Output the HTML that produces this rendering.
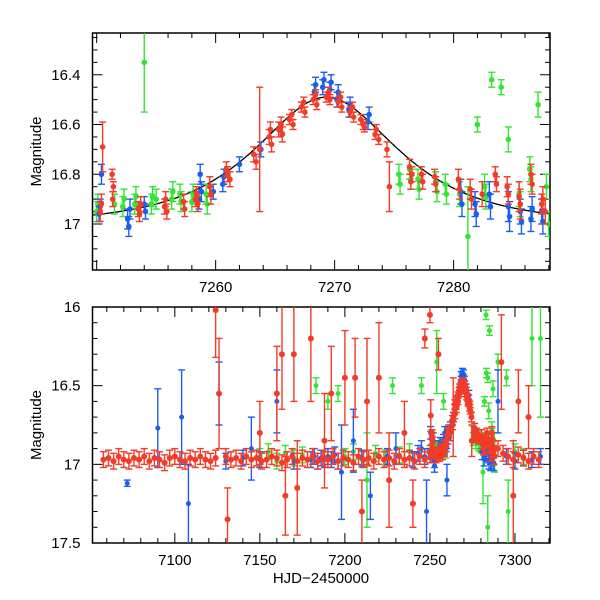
<!DOCTYPE html>
<html><head><meta charset="utf-8">
<style>
html,body{margin:0;padding:0;background:#fff;}
svg{display:block;font-family:"Liberation Sans",sans-serif;}
</style></head>
<body>
<svg id="chart" width="600" height="600" viewBox="0 0 600 600" xmlns="http://www.w3.org/2000/svg">
<g id="top"></g>
<g id="bot"></g>
</svg>
<script>
// ---- data (top panel nights, also shown in bottom panel) ----
const redT = [7250.3,7250.5,7250.4,7251.3,7251.4,7251.35,7253.5,7253.7,7253.6,7255.7,7255.9,7255.8,7257.3,7257.4,7258.3,7258.5,7258.4,7259.5,7259.6,7260.9,7261.2,7261.0,7263.2,7263.7,7263.4,7264.5,7264.7,7264.6,7265.3,7265.6,7265.5,7266.2,7266.5,7266.4,7267.2,7267.5,7267.4,7268.2,7268.5,7268.4,7269.3,7269.6,7269.5,7270.3,7270.6,7270.5,7271.3,7271.6,7271.5,7272.2,7272.5,7272.4,7273.4,7273.7,7273.5,7274.4,7274.6,7276.3,7276.5,7276.4,7277.3,7277.4,7278.4,7278.5,7280.4,7280.5,7281.4,7281.5,7282.4,7283.5,7283.6,7284.5,7284.6,7285.5,7285.6,7286.5,7286.6,7287.4,7287.7,7287.5];
const redM = [16.95,16.69,16.92,16.80,16.85,16.90,16.94,16.92,16.96,16.93,16.95,16.90,16.91,16.94,16.90,16.92,16.88,16.85,16.88,16.78,16.82,16.80,16.72,16.70,16.75,16.65,16.68,16.62,16.62,16.64,16.60,16.58,16.60,16.56,16.53,16.55,16.51,16.50,16.52,16.48,16.49,16.50,16.47,16.51,16.53,16.49,16.55,16.57,16.53,16.58,16.61,16.60,16.64,16.66,16.62,16.70,16.85,16.77,16.80,16.83,16.80,16.83,16.81,16.84,16.82,16.86,16.86,16.90,16.88,16.80,16.84,16.85,16.88,16.89,16.92,16.80,16.84,16.92,16.95,16.90];
const redE = [0.04,0.1,0.04,0.02,0.02,0.03,0.03,0.03,0.03,0.03,0.03,0.03,0.03,0.03,0.03,0.03,0.03,0.04,0.04,0.03,0.03,0.03,0.03,0.25,0.03,0.03,0.03,0.03,0.03,0.03,0.03,0.02,0.02,0.02,0.02,0.02,0.02,0.02,0.02,0.02,0.02,0.02,0.02,0.02,0.02,0.02,0.02,0.02,0.02,0.02,0.02,0.02,0.02,0.02,0.02,0.03,0.1,0.03,0.03,0.03,0.03,0.03,0.03,0.03,0.04,0.04,0.04,0.04,0.05,0.03,0.03,0.04,0.04,0.06,0.06,0.04,0.04,0.04,0.05,0.05];
const blueT = [7250.2,7250.4,7250.3,7252.6,7252.8,7252.7,7254.0,7254.1,7258.6,7258.8,7258.7,7259.8,7260.6,7260.7,7262.0,7263.8,7268.3,7268.4,7269.0,7269.1,7269.6,7269.7,7270.2,7270.3,7271.2,7271.3,7272.8,7272.9,7280.6,7280.7,7281.8,7281.9,7283.0,7283.1,7284.6,7284.7,7285.6,7285.7,7286.5,7286.6,7287.4,7287.5];
const blueM = [16.96,16.80,16.93,16.98,16.94,17.01,16.92,16.95,16.90,16.87,16.80,16.87,16.84,16.81,16.76,16.70,16.47,16.44,16.45,16.42,16.46,16.43,16.50,16.47,16.54,16.52,16.59,16.56,16.87,16.92,16.92,16.96,16.88,16.93,16.93,16.97,16.95,16.99,16.98,16.94,16.95,16.99];
const blueE = [0.03,0.04,0.03,0.04,0.04,0.04,0.03,0.03,0.04,0.04,0.04,0.03,0.03,0.03,0.03,0.03,0.03,0.03,0.03,0.03,0.03,0.03,0.03,0.03,0.03,0.03,0.03,0.03,0.05,0.05,0.05,0.05,0.05,0.05,0.06,0.06,0.05,0.05,0.05,0.05,0.05,0.05];
const greenT = [7250.0,7250.1,7251.5,7252.2,7252.3,7253.2,7253.3,7254.0,7254.6,7254.7,7255.0,7256.3,7256.4,7257.0,7257.1,7258.0,7258.1,7259.2,7259.3,7275.4,7275.5,7276.3,7276.4,7277.0,7277.1,7278.5,7278.6,7279.3,7279.4,7280.5,7281.2,7282.0,7282.6,7282.7,7283.2,7284.0,7284.6,7285.5,7285.6,7286.4,7286.5,7287.1,7287.8,7288.0];
const greenM = [16.95,16.92,16.92,16.93,16.90,16.92,16.89,16.35,16.92,16.89,16.90,16.90,16.87,16.88,16.91,16.91,16.88,16.88,16.92,16.80,16.84,16.78,16.82,16.82,16.86,16.83,16.87,16.84,16.88,16.88,17.05,16.60,16.85,16.89,16.42,16.45,16.66,16.88,16.92,16.78,16.82,16.52,16.85,17.00];
const greenE = [0.04,0.04,0.04,0.04,0.04,0.04,0.04,0.2,0.04,0.04,0.04,0.04,0.04,0.04,0.04,0.04,0.04,0.04,0.04,0.04,0.04,0.04,0.04,0.04,0.04,0.04,0.04,0.04,0.04,0.05,0.2,0.03,0.05,0.05,0.03,0.03,0.05,0.05,0.05,0.05,0.05,0.05,0.05,0.05];
// ---- earlier/extra data (bottom panel) ----
const redT2 = [7058,7061,7064,7067,7070,7073,7076,7079,7082,7085,7088,7091,7094,7097,7100,7103,7106,7109,7112,7115,7118,7121,7124,7130,7133,7136,7139,7142,7145,7148,7151,7154,7157,7160,7163,7166,7169,7172,7175,7178,7181,7184,7187,7190,7193,7196,7199,7202,7205,7208,7211,7214,7217,7220,7223,7226,7229,7232,7235,7238,7241,7244,7247,7290,7293,7296,7299,7302,7305,7308,7311,7314,7124,7126,7131,7150,7160,7163,7165,7170,7172,7180,7188,7192,7200,7206,7210,7213,7220,7226,7235,7240,7247,7250,7255,7292,7299,7302,7308];
const redM2 = [16.97,16.96,16.98,16.95,16.97,16.98,16.96,16.97,16.95,16.98,16.96,16.97,16.99,16.96,16.95,16.97,16.98,16.96,16.97,16.95,16.97,16.98,16.96,16.95,16.97,16.96,16.98,16.95,16.97,16.96,16.98,16.97,16.95,16.96,16.99,16.97,16.95,16.98,16.96,16.97,16.95,16.98,16.96,16.97,16.95,16.98,16.96,16.97,16.99,16.95,16.97,16.96,16.98,16.95,16.97,16.96,16.98,16.95,16.97,16.96,16.98,16.95,16.97,16.90,16.93,16.95,16.97,16.94,16.96,16.98,16.95,16.97,16.02,16.55,17.35,16.80,16.55,16.30,17.20,16.30,17.15,16.20,16.85,16.55,16.45,16.45,17.30,16.60,16.45,17.10,16.80,17.25,16.20,16.05,16.30,16.35,17.20,16.60,16.70];
const redE2 = [0.05,0.05,0.05,0.05,0.05,0.05,0.05,0.05,0.05,0.05,0.05,0.05,0.05,0.05,0.05,0.05,0.05,0.05,0.05,0.05,0.05,0.05,0.05,0.05,0.05,0.05,0.05,0.05,0.05,0.05,0.05,0.05,0.05,0.05,0.05,0.05,0.05,0.05,0.05,0.05,0.05,0.05,0.05,0.05,0.05,0.05,0.05,0.05,0.05,0.05,0.05,0.05,0.05,0.05,0.05,0.05,0.05,0.05,0.05,0.05,0.05,0.05,0.05,0.05,0.05,0.05,0.05,0.05,0.05,0.05,0.05,0.05,0.3,0.35,0.2,0.2,0.3,0.35,0.25,0.3,0.3,0.4,0.3,0.3,0.3,0.25,0.2,0.4,0.35,0.3,0.2,0.15,0.06,0.05,0.1,0.3,0.35,0.2,0.2];
const blueT2 = [7072,7090,7104,7108,7126,7145,7160,7180,7182,7184,7186,7188,7190,7198,7205,7215,7230,7243,7245,7247,7248,7252,7256,7260,7262,7290,7295,7300,7305,7310,7315,7130,7140,7150,7170,7210,7225,7240,7192,7194,7196,7255,7258];
const blueM2 = [17.12,16.77,16.70,17.25,16.55,16.90,16.60,16.97,16.95,16.98,16.96,16.97,16.95,17.05,16.85,17.20,16.90,16.93,16.90,16.95,17.30,16.85,16.88,17.10,16.80,16.60,16.95,16.98,16.96,16.97,16.95,16.98,16.96,16.97,16.98,16.96,16.95,16.97,16.97,16.94,16.98,16.90,16.86];
const blueE2 = [0.02,0.25,0.3,0.25,0.2,0.2,0.2,0.05,0.05,0.05,0.05,0.05,0.05,0.3,0.2,0.15,0.1,0.05,0.05,0.05,0.2,0.05,0.05,0.1,0.05,0.2,0.05,0.05,0.05,0.05,0.05,0.05,0.05,0.05,0.05,0.05,0.05,0.05,0.05,0.05,0.05,0.05,0.05];
const greenT2 = [7150,7155,7160,7165,7170,7175,7183,7190,7196,7200,7205,7210,7213,7218,7224,7228,7232,7238,7245,7258,7283,7285,7290,7295,7310,7315,7284,7296,7300,7305];
const greenM2 = [16.95,16.92,16.98,16.93,16.96,16.94,16.50,16.60,16.55,16.95,16.92,16.97,17.10,16.93,16.96,16.50,16.94,16.92,16.50,16.60,16.05,16.15,16.35,16.45,16.20,16.20,17.40,17.30,16.92,16.95];
const greenE2 = [0.05,0.05,0.05,0.05,0.05,0.05,0.05,0.05,0.05,0.05,0.05,0.05,0.3,0.05,0.05,0.05,0.05,0.05,0.05,0.05,0.03,0.03,0.05,0.05,0.3,0.5,0.2,0.2,0.05,0.05];
// tick labels
const topXTicks = [7260,7270,7280];
const topYTicks = [16.4,16.6,16.8,17];
const botXTicks = [7100,7150,7200,7250,7300];
const botYTicks = [16,16.5,17,17.5];

const NS = "http://www.w3.org/2000/svg";
function mk(parent, tag, attrs){ const e=document.createElementNS(NS,tag); for(const k in attrs) e.setAttribute(k,attrs[k]); parent.appendChild(e); return e; }

const panels = {
 top:{x0:92.5,x1:550,y0:33,y1:270,t0:7249.65,t1:7288.1,m0:16.232,m1:17.185},
 bot:{x0:92.5,x1:550,y0:307,y1:543,t0:7051.6,t1:7320.6,m0:16,m1:17.5}
};
function X(p,t){return p.x0+(t-p.t0)/(p.t1-p.t0)*(p.x1-p.x0);}
function Y(p,m){return p.y0+(m-p.m0)/(p.m1-p.m0)*(p.y1-p.y0);}

function drawSeries(g,p,T,M,E,color,name,r){
  for(let i=0;i<T.length;i++){
    if(T[i]<p.t0||T[i]>p.t1) continue;
    const x=X(p,T[i]);
    const ya=Math.max(p.y0,Y(p,M[i]-E[i])), yb=Math.min(p.y1,Y(p,M[i]+E[i]));
    const pt=mk(g,'g',{});
    
    
    mk(pt,'line',{x1:x,x2:x,y1:ya,y2:yb,stroke:color,'stroke-width':1.4});
    if(ya>p.y0) mk(pt,'line',{x1:x-3.5,x2:x+3.5,y1:ya,y2:ya,stroke:color,'stroke-width':1.4});
    if(yb<p.y1) mk(pt,'line',{x1:x-3.5,x2:x+3.5,y1:yb,y2:yb,stroke:color,'stroke-width':1.4});
    const ym=Y(p,M[i]);
    if(ym>=p.y0&&ym<=p.y1) mk(pt,'circle',{cx:x,cy:ym,r:r,fill:color});
  }
}

function drawAxes(g,p,xMajor,xMinor,yMajor,yMinor,xLabels,yLabels,yfmt){
  const clip=mk(g,'clipPath',{id:'c'+p.y0}); mk(clip,'rect',{x:p.x0,y:p.y0,width:p.x1-p.x0,height:p.y1-p.y0});
  for(let t=Math.ceil(p.t0/xMinor)*xMinor;t<=p.t1;t+=xMinor){
    const x=X(p,t); const maj=Math.abs(t/xMajor-Math.round(t/xMajor))<1e-6; const L=maj?10:5;
    mk(g,'line',{x1:x,x2:x,y1:p.y1,y2:p.y1-L,stroke:'#000','stroke-width':1});
    mk(g,'line',{x1:x,x2:x,y1:p.y0,y2:p.y0+L,stroke:'#000','stroke-width':1});
  }
  for(let k=Math.ceil(p.m0/yMinor-1e-6);k*yMinor<=p.m1+1e-9;k++){
    const m=k*yMinor; const y=Y(p,m); const maj=Math.abs(m/yMajor-Math.round(m/yMajor))<1e-6; const L=maj?10:5;
    mk(g,'line',{x1:p.x0,x2:p.x0+L,y1:y,y2:y,stroke:'#000','stroke-width':1});
    mk(g,'line',{x1:p.x1,x2:p.x1-L,y1:y,y2:y,stroke:'#000','stroke-width':1});
  }
  xLabels.forEach(t=>{const e=mk(g,'text',{x:X(p,t),y:p.y1+22,'text-anchor':'middle','font-size':15});e.textContent=t;
    
    });
  yLabels.forEach(m=>{const e=mk(g,'text',{x:p.x0-12,y:Y(p,m)+5,'text-anchor':'end','font-size':15});e.textContent=yfmt(m);
    
    });
  const fr=mk(g,'rect',{x:p.x0,y:p.y0,width:p.x1-p.x0,height:p.y1-p.y0,fill:'none',stroke:'#000','stroke-width':1.5});
  
  
  const yt=mk(g,'text',{x:0,y:0,transform:`translate(41,${(p.y0+p.y1)/2}) rotate(-90)`,'text-anchor':'middle','font-size':15});
  yt.textContent='Magnitude';
  
  
}

// top panel
const gt=document.getElementById('top'), pt=panels.top;
drawAxes(gt,pt,10,2,0.2,0.05,topXTicks,topYTicks,m=>String(m));
(function(){
  let d='';
  for(let t=pt.t0;t<=pt.t1;t+=0.1){
    const u=Math.sqrt(0.5625+Math.pow((t-7269.3)/8.5,2));
    const A=(u*u+2)/(u*Math.sqrt(u*u+4));
    const m=17.0-2.5*Math.log10(A);
    d+=(d?'L':'M')+X(pt,t).toFixed(1)+','+Y(pt,m).toFixed(1);
  }
  const c=mk(gt,'path',{d:d,fill:'none',stroke:'#000','stroke-width':1.3});
  
  
})();
const dt=mk(gt,'g',{'clip-path':'url(#c33)'});
drawSeries(dt,pt,greenT,greenM,greenE,'#33e633','green-series',2.8);
drawSeries(dt,pt,blueT,blueM,blueE,'#1a5ef0','blue-series',2.8);
drawSeries(dt,pt,redT,redM,redE,'#f23c28','red-series',2.8);

// bottom panel
const gb=document.getElementById('bot'), pb=panels.bot;
drawAxes(gb,pb,50,10,0.5,0.1,botXTicks,botYTicks,m=>String(m));
const xt=mk(gb,'text',{x:321,y:583,'text-anchor':'middle','font-size':15});
xt.textContent='HJD\u22122450000';


const db=mk(gb,'g',{'clip-path':'url(#c307)'});
drawSeries(db,pb,greenT2,greenM2,greenE2,'#33e633','green-series',2.5);
drawSeries(db,pb,greenT,greenM,greenE,'#33e633','green-series',2.5);
drawSeries(db,pb,blueT2,blueM2,blueE2,'#1a5ef0','blue-series',2.5);
drawSeries(db,pb,blueT,blueM,blueE,'#1a5ef0','blue-series',2.5);
drawSeries(db,pb,redT2,redM2,redE2,'#f23c28','red-series',3);
drawSeries(db,pb,redT,redM,redE,'#f23c28','red-series',3);
</script>
</body></html>
